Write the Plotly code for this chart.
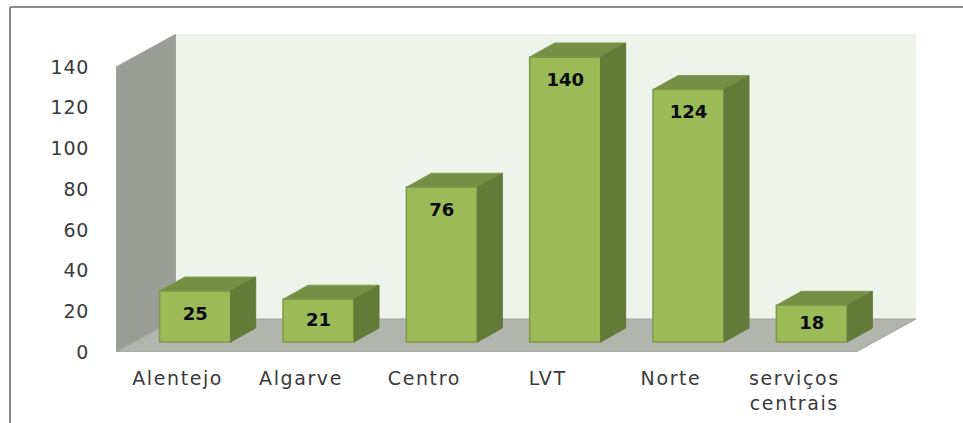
import plotly.graph_objects as go

categories = ["Alentejo", "Algarve", "Centro", "LVT", "Norte", "serviços<br>centrais"]
values = [25, 21, 76, 140, 124, 18]
y_ticks = [0, 20, 40, 60, 80, 100, 120, 140]

W, H = 963, 423
L, R, T, B = 116, 916, 34, 352       # plot rectangle in page pixels
PX_X = 740 / 6                        # pixels per category
PX_Y = 285 / 140                      # pixels per value unit
X0 = -0.5
X1 = X0 + (R - L) / PX_X
Y1 = (B - T) / PX_Y
WALL_DX = 60 / PX_X                   # depth of the chart box
WALL_DY = 33 / PX_Y
FRONT_X1 = X0 + 6
FRONT_Y1 = 140
BAR_W = 71 / PX_X
BAR_SHIFT = 17.5 / PX_X               # bars stand inside the floor
BAR_BASE = 10 / PX_Y
DX = 25 / PX_X                        # depth of each bar
DY = 14 / PX_Y
LABEL_DROP = 24 / PX_Y

FRONT = "#9BBB59"
TOP = "#778F45"
SIDE = "#647A38"
EDGE = "#7E9A48"
TEXT = "#3A3A3A"

fig = go.Figure()

xs = [i + BAR_SHIFT for i in range(len(values))]
fig.add_trace(go.Bar(
    x=xs, y=values, base=BAR_BASE, width=BAR_W,
    marker=dict(color=FRONT, line=dict(color=EDGE, width=1.5)),
    hoverinfo="skip", showlegend=False,
))

for x, v in zip(xs, values):
    l, r = x - BAR_W / 2, x + BAR_W / 2
    b, t = BAR_BASE, BAR_BASE + v
    fig.add_trace(go.Scatter(
        x=[l, l + DX, r + DX, r, l], y=[t, t + DY, t + DY, t, t],
        mode="lines", fill="toself", fillcolor=TOP,
        line=dict(color=EDGE, width=1), hoverinfo="skip", showlegend=False))
    fig.add_trace(go.Scatter(
        x=[r, r + DX, r + DX, r, r], y=[b, b + DY, t + DY, t, b],
        mode="lines", fill="toself", fillcolor=SIDE,
        line=dict(color=SIDE, width=1), hoverinfo="skip", showlegend=False))

label_y = [BAR_BASE + v - min(LABEL_DROP, v / 2 + 1 / PX_Y) for v in values]
fig.add_trace(go.Scatter(
    x=xs, y=label_y, mode="text", text=[str(v) for v in values],
    textposition="middle center",
    textfont=dict(family="DejaVu Sans", size=18, color="#0A0A0A", weight="bold"),
    hoverinfo="skip", showlegend=False))

shapes = [
    # left wall
    dict(type="path", layer="below", xref="x", yref="y",
         path=f"M{X0},0 L{X0 + WALL_DX},{WALL_DY} L{X0 + WALL_DX},{FRONT_Y1 + WALL_DY} L{X0},{FRONT_Y1} Z",
         fillcolor="#9A9C96", line=dict(color="#A6A8A2", width=1)),
    # back wall
    dict(type="rect", layer="below", xref="x", yref="y",
         x0=X0 + WALL_DX, x1=X1, y0=WALL_DY, y1=FRONT_Y1 + WALL_DY,
         fillcolor="#EEF3EB", line=dict(width=0)),
    # floor
    dict(type="path", layer="below", xref="x", yref="y",
         path=f"M{X0},0 L{FRONT_X1},0 L{X1},{WALL_DY} L{X0 + WALL_DX},{WALL_DY} Z",
         fillcolor="#B2B4AE", line=dict(color="#A0A29C", width=1)),
    # picture frame
    dict(type="line", layer="above", xref="paper", yref="paper",
         x0=(10 - L) / (R - L), x1=(10 - L) / (R - L),
         y0=(B - H) / (B - T), y1=(B - 7) / (B - T),
         line=dict(color="#8A8A8A", width=2)),
    dict(type="line", layer="above", xref="paper", yref="paper",
         x0=(10 - L) / (R - L), x1=(W - L) / (R - L),
         y0=(B - 7) / (B - T), y1=(B - 7) / (B - T),
         line=dict(color="#8A8A8A", width=2)),
]

fig.update_layout(
    width=W, height=H,
    margin=dict(l=L, r=W - R, t=T, b=H - B, autoexpand=False),
    paper_bgcolor="white", plot_bgcolor="white",
    shapes=shapes, showlegend=False,
    font=dict(family="DejaVu Sans", size=20, color=TEXT),
    xaxis=dict(range=[X0, X1], tickmode="array", tickvals=list(range(len(categories))),
               ticktext=categories, showgrid=False, zeroline=False, showline=False,
               ticks="outside", ticklen=9, tickcolor="rgba(0,0,0,0)", tickangle=0,
               tickfont=dict(family="DejaVu Sans", size=19, color=TEXT)),
    yaxis=dict(range=[0, Y1], tickmode="array", tickvals=y_ticks,
               showgrid=False, zeroline=False, showline=False,
               ticks="outside", ticklen=22, tickcolor="rgba(0,0,0,0)",
               tickfont=dict(family="DejaVu Sans", size=19, color=TEXT)),
)

page_css = """
document.body.style.margin = '0';
document.body.style.overflow = 'hidden';
var s = document.createElement('style');
s.textContent = '.xtick text{letter-spacing:1.6px} .ytick text{letter-spacing:0.8px}';
document.head.appendChild(s);
"""
fig.write_html("out.html", config={"displayModeBar": False}, post_script=page_css)
